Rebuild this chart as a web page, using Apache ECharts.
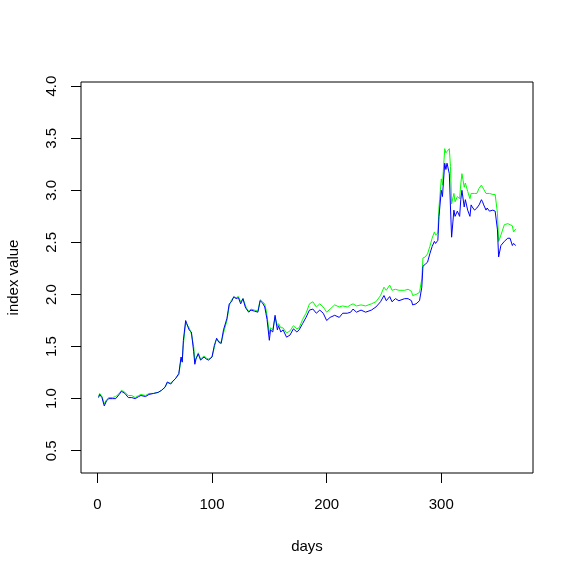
<!DOCTYPE html>
<html>
<head>
<meta charset="utf-8">
<script src="https://cdn.jsdelivr.net/npm/echarts@6/dist/echarts.min.js"></script>
<style>
  html, body { margin: 0; padding: 0; background: #fff; }
  #chart { width: 575px; height: 575px; }
</style>
</head>
<body>
<div id="chart"></div>
<script>
// day of each observation
var days = [1, 2, 4, 6, 8, 10, 13, 16, 19, 21, 24, 27, 30, 33, 36, 38, 42, 45, 49, 53,
  56, 59, 61, 64, 66, 68, 71, 73, 74, 75, 77, 78, 80, 82, 84, 85, 86, 88, 90, 93,
  95, 97, 100, 102, 103, 104, 106, 108, 110, 113, 115, 117, 119, 121, 123, 125, 127, 129, 130, 132,
  134, 137, 140, 142, 144, 146, 147, 148, 150, 151, 153, 155, 157, 158, 160, 162, 165, 168, 171, 174,
  176, 179, 182, 185, 188, 191, 194, 197, 200, 203, 207, 211, 214, 218, 221, 223, 226, 230, 234, 239,
  243, 247, 250, 252, 255, 257, 260, 263, 268, 271, 274, 275, 278, 281, 283, 284, 286, 288, 290, 292,
  294, 295, 297, 298, 300, 301, 303, 304, 305, 307, 308, 309, 311, 312, 314, 316, 317, 318, 320, 321,
  323, 325, 326, 327, 329, 331, 333, 335, 336, 337, 339, 340, 342, 345, 347, 349, 350, 352, 355, 358,
  360, 362, 363, 365]

var greenIdx = [1.02, 1.05, 1.02, 0.95, 0.99, 1.01, 1.01, 1.02, 1.05, 1.08, 1.06, 1.03, 1.03, 1.01, 1.03, 1.04, 1.03, 1.05, 1.05, 1.06,
  1.08, 1.11, 1.15, 1.15, 1.17, 1.19, 1.23, 1.38, 1.36, 1.52, 1.73, 1.73, 1.68, 1.62, 1.50, 1.36, 1.36, 1.44, 1.38, 1.41,
  1.39, 1.38, 1.40, 1.49, 1.55, 1.57, 1.55, 1.54, 1.63, 1.75, 1.89, 1.95, 1.97, 1.97, 1.98, 1.93, 1.96, 1.90, 1.87, 1.84,
  1.86, 1.85, 1.84, 1.95, 1.93, 1.91, 1.86, 1.80, 1.62, 1.68, 1.66, 1.78, 1.70, 1.72, 1.68, 1.68, 1.63, 1.65, 1.70, 1.67,
  1.68, 1.76, 1.82, 1.91, 1.93, 1.88, 1.91, 1.88, 1.83, 1.86, 1.90, 1.88, 1.89, 1.88, 1.90, 1.91, 1.89, 1.90, 1.89, 1.91,
  1.93, 1.99, 2.07, 2.04, 2.09, 2.04, 2.05, 2.04, 2.04, 2.05, 2.03, 1.99, 2.00, 2.02, 2.15, 2.35, 2.36, 2.39, 2.46, 2.54,
  2.60, 2.57, 2.59, 2.84, 3.11, 3.05, 3.40, 3.36, 3.36, 3.40, 3.23, 2.87, 2.97, 2.89, 2.94, 2.92, 3.06, 3.16, 3.03, 3.07,
  2.99, 2.92, 2.97, 2.96, 2.97, 2.97, 3.02, 3.05, 3.03, 3.01, 2.97, 2.97, 2.97, 2.96, 2.96, 2.78, 2.51, 2.57, 2.67, 2.68,
  2.67, 2.66, 2.60, 2.63]

var blueIdx = [1.01, 1.04, 1.01, 0.93, 0.98, 1.00, 1.00, 1.00, 1.04, 1.07, 1.05, 1.01, 1.01, 1.00, 1.02, 1.03, 1.02, 1.04, 1.05, 1.06,
  1.08, 1.11, 1.16, 1.14, 1.17, 1.19, 1.24, 1.40, 1.35, 1.56, 1.75, 1.72, 1.66, 1.64, 1.45, 1.33, 1.38, 1.43, 1.37, 1.40,
  1.38, 1.37, 1.40, 1.51, 1.54, 1.58, 1.54, 1.53, 1.66, 1.77, 1.91, 1.93, 1.98, 1.96, 1.97, 1.91, 1.96, 1.88, 1.86, 1.83,
  1.85, 1.84, 1.83, 1.94, 1.92, 1.88, 1.82, 1.76, 1.56, 1.66, 1.64, 1.80, 1.66, 1.70, 1.64, 1.66, 1.59, 1.61, 1.67, 1.64,
  1.66, 1.72, 1.78, 1.85, 1.86, 1.82, 1.85, 1.82, 1.75, 1.78, 1.80, 1.78, 1.82, 1.82, 1.83, 1.86, 1.83, 1.85, 1.83, 1.85,
  1.88, 1.93, 1.99, 1.94, 1.98, 1.93, 1.96, 1.94, 1.96, 1.96, 1.94, 1.90, 1.91, 1.94, 2.07, 2.27, 2.29, 2.31, 2.39, 2.46,
  2.51, 2.49, 2.52, 2.75, 3.00, 2.94, 3.26, 3.20, 3.26, 3.16, 2.84, 2.55, 2.81, 2.75, 2.80, 2.75, 2.91, 3.00, 2.84, 2.91,
  2.81, 2.75, 2.86, 2.84, 2.81, 2.83, 2.86, 2.91, 2.89, 2.86, 2.81, 2.83, 2.80, 2.81, 2.80, 2.62, 2.36, 2.47, 2.51, 2.54,
  2.54, 2.47, 2.49, 2.47]

var xTicks = [0, 100, 200, 300]
var yTicks = [0.5, 1.0, 1.5, 2.0, 2.5, 3.0, 3.5, 4.0]

var chart = echarts.init(document.getElementById('chart'))
var font = 'Liberation Sans, Arial, Helvetica, sans-serif'

function pairs(vals) {
  return days.map(function(d, i) { return [d, vals[i]] })
}

chart.setOption({
  animation: false,
  backgroundColor: '#fff',
  grid: {
    left: 81,
    right: 42,
    top: 82,
    bottom: 102,
    outerBoundsMode: 'none',
    show: true,
    borderColor: '#000',
    borderWidth: 1
  },
  xAxis: {
    type: 'value',
    min: -14.3,
    max: 380,
    name: 'days',
    nameLocation: 'middle',
    nameGap: 66,
    nameTextStyle: { color: '#000', fontSize: 15, fontFamily: font },
    axisLine: { show: false, onZero: false },
    splitLine: { show: false },
    axisTick: {
      show: true,
      length: 10,
      customValues: xTicks,
      lineStyle: { color: '#000' }
    },
    axisLabel: {
      customValues: xTicks,
      margin: 24,
      color: '#000',
      fontSize: 15,
      fontFamily: font
    }
  },
  yAxis: {
    type: 'value',
    min: 0.286,
    max: 4.04,
    name: 'index value',
    nameLocation: 'middle',
    nameGap: 60,
    nameRotate: 90,
    nameTextStyle: { color: '#000', fontSize: 15, fontFamily: font },
    axisLine: { show: false, onZero: false },
    splitLine: { show: false },
    axisTick: {
      show: true,
      length: 10,
      customValues: yTicks,
      lineStyle: { color: '#000' }
    },
    axisLabel: {
      customValues: yTicks,
      rotate: 90,
      margin: 22,
      color: '#000',
      fontSize: 15,
      fontFamily: font,
      formatter: function(v) { return v.toFixed(1) }
    }
  },
  series: [
    {
      name: 'green',
      type: 'line',
      data: pairs(greenIdx),
      showSymbol: false,
      lineStyle: { color: '#00ff00', width: 1 }
    },
    {
      name: 'blue',
      type: 'line',
      data: pairs(blueIdx),
      showSymbol: false,
      lineStyle: { color: '#0000ff', width: 1 }
    }
  ]
})
</script>
</body>
</html>
